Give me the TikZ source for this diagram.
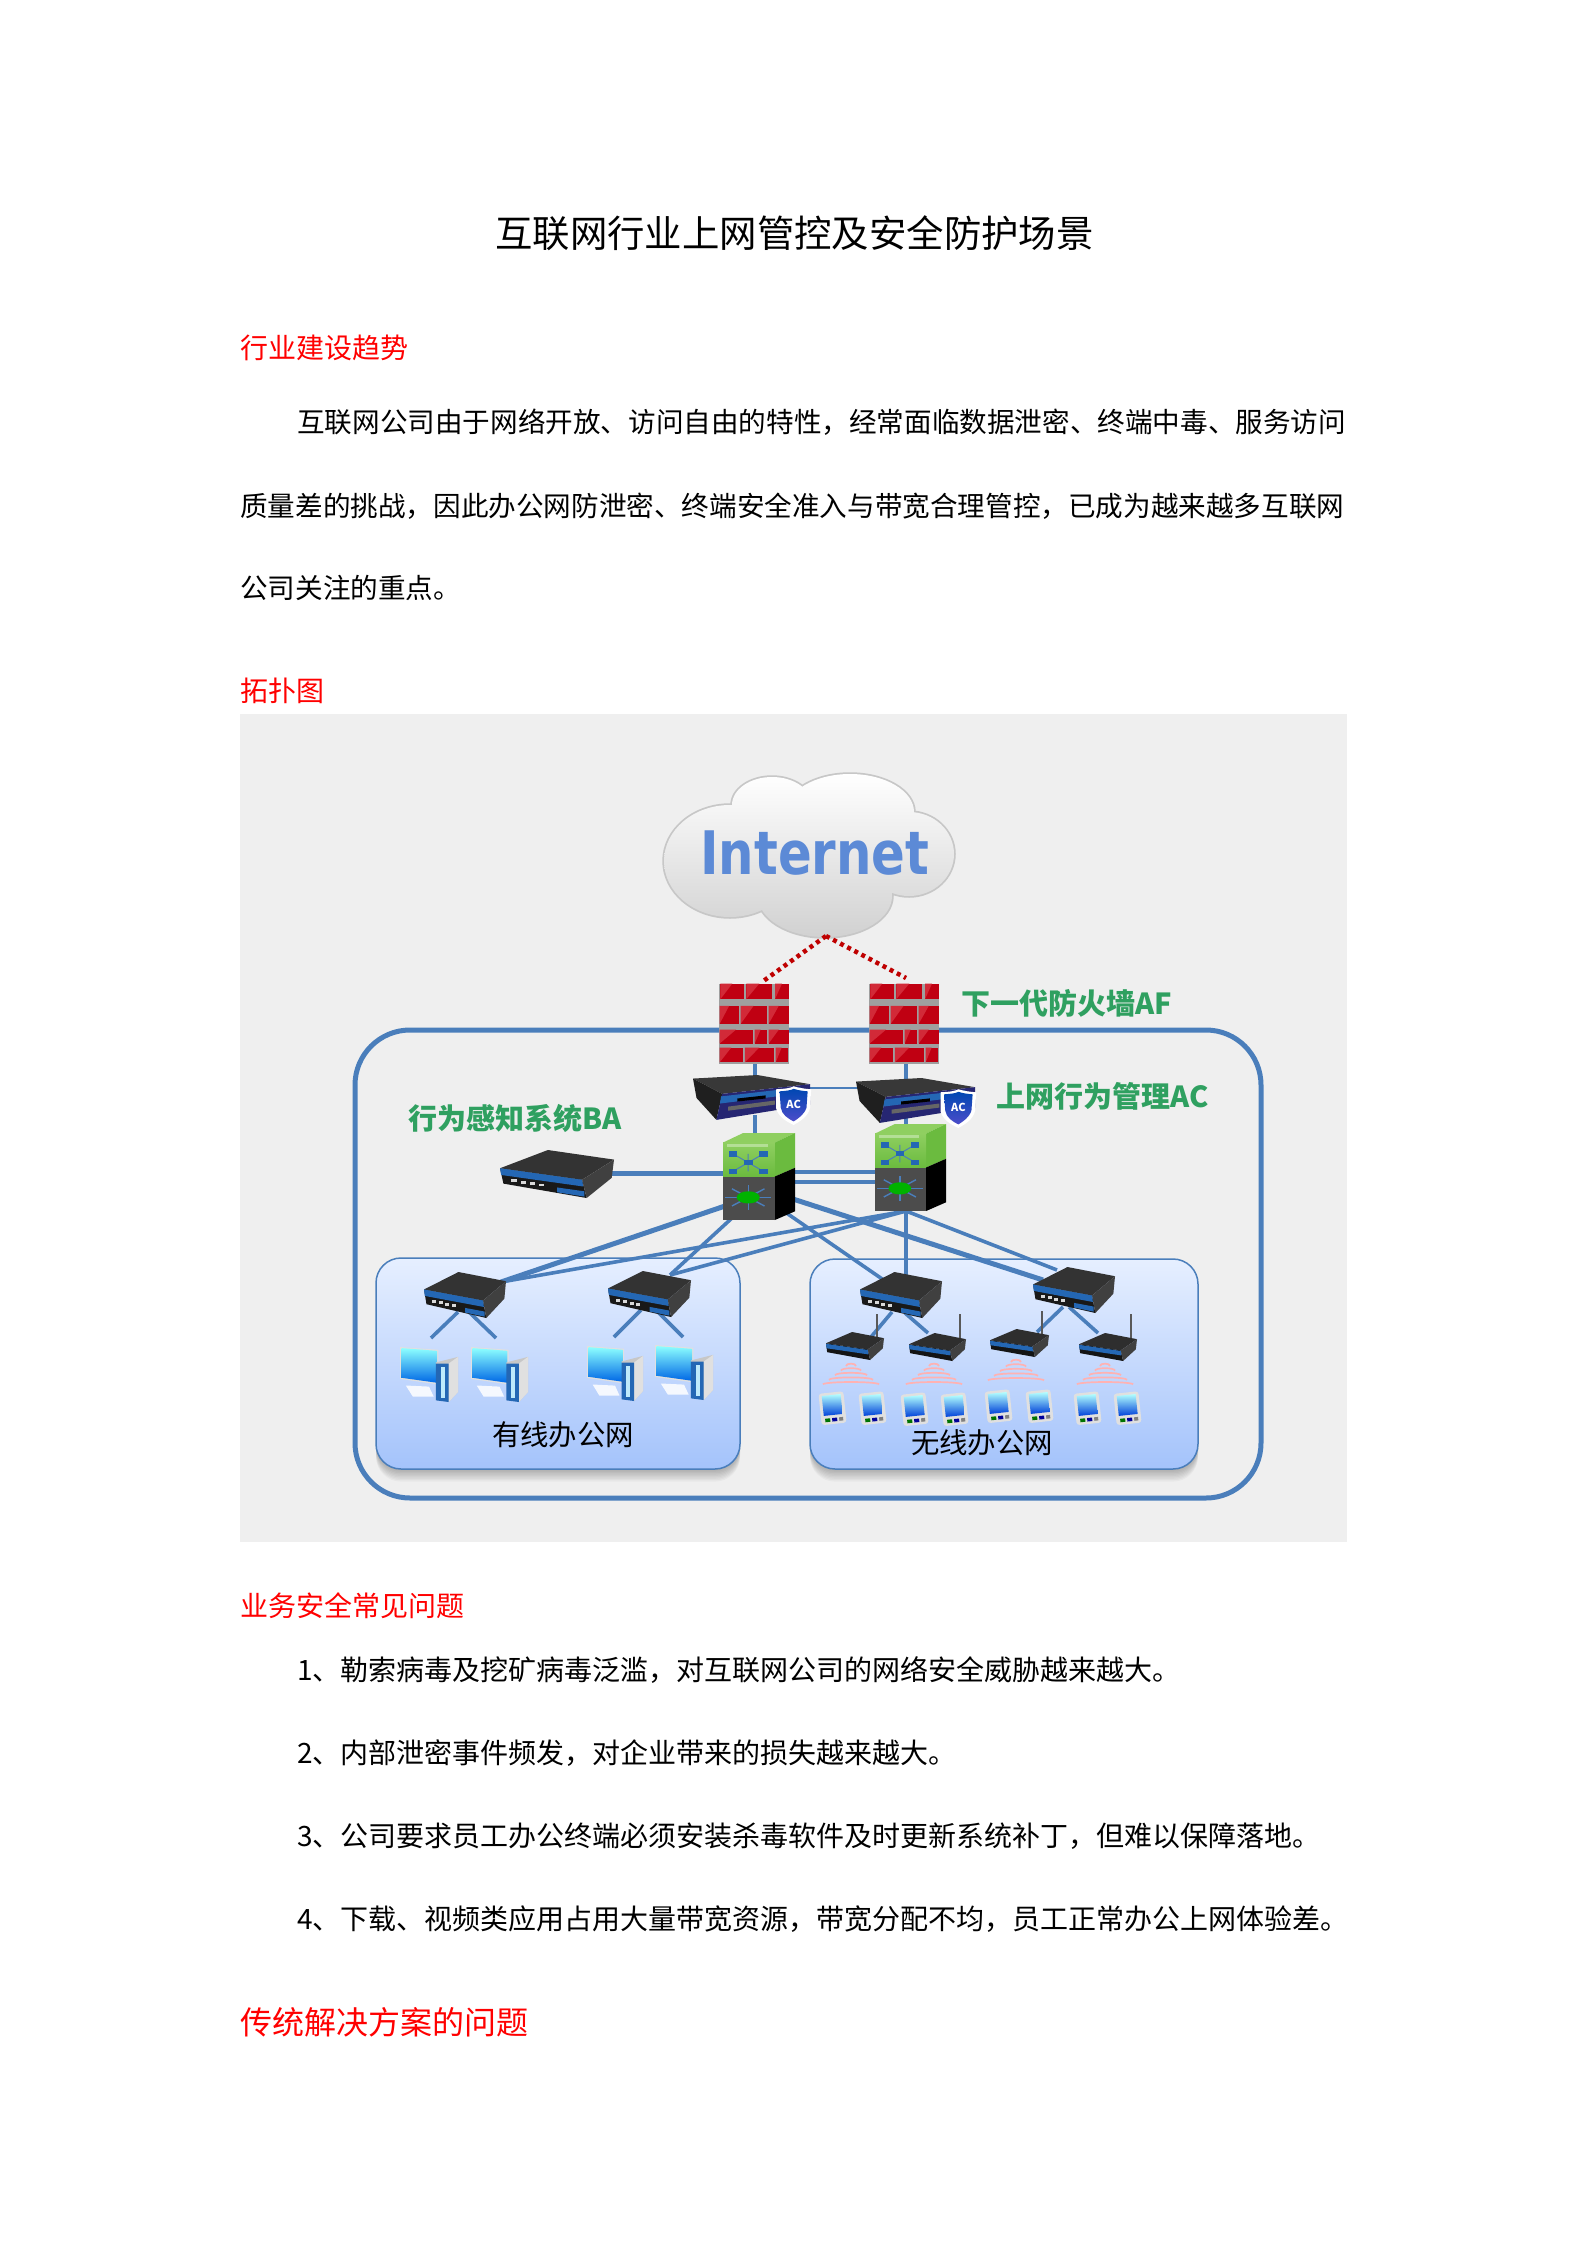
\documentclass[tikz,border=0pt]{standalone}
\usepackage{fontspec}
\setmainfont{Noto Sans CJK SC}
\newfontfamily\inetfont{DejaVu Sans}
\definecolor{linkblue}{HTML}{4A7EBB}
\definecolor{framegrey}{HTML}{EFEFEF}
\definecolor{labgreen}{HTML}{2FA060}
\definecolor{brickred}{HTML}{C00012}
\definecolor{bricklite}{HTML}{D22A38}
\definecolor{bandblue}{HTML}{2467B4}
\definecolor{paneltop}{HTML}{E6EFFF}
\definecolor{panelbot}{HTML}{A4C3FB}
\definecolor{inetblue}{HTML}{5C8AD6}
\definecolor{swgreen}{HTML}{6BBB3F}
\definecolor{swlite}{HTML}{8FCF60}
\tikzset{
  devbox/.style={inner sep=0pt,outer sep=0pt,anchor=north west},
  link/.style={draw=linkblue,line width=3.6pt},
  thicklink/.style={draw=linkblue,line width=5pt},
  thinlink/.style={draw=linkblue,line width=1.6pt},
  redlink/.style={draw=red!75!black,line width=4.5pt,dash pattern=on 4pt off 4pt},
  para/.style={anchor=west,inner sep=0pt,font=\fontsize{27.6}{30}\selectfont,text=black},
  item/.style={anchor=west,inner sep=0pt,font=\fontsize{28}{30}\selectfont,text=black},
  head/.style={anchor=west,inner sep=0pt,font=\fontsize{28}{30}\selectfont,text=red},
  grn/.style={inner sep=0pt,font=\fontsize{29}{30}\selectfont\bfseries,text=labgreen},
  panellab/.style={inner sep=0pt,font=\fontsize{28.4}{30}\selectfont,text=black},
  panel/.style={draw=linkblue,line width=1.5pt,rounded corners=25pt,top color=paneltop,bottom color=panelbot},
}
% ---- device macros: name, x, y, width, height
\newcommand{\firewalldev}[5]{%
  \node[devbox,minimum width=#4pt,minimum height=#5pt] (#1) at (#2,#3) {};
  \begin{scope}[shift={(#2,#3)},xscale=#4/100,yscale=#5/100]
    \fill[gray!75] (0,3) -- (100,3) -- (100,100) -- (0,100) -- cycle;
    \foreach \a/\b/\c/\d in {2/36/2/21,39/76/2/21,80/100/2/21,1/28/29/51,31/68/29/51,71/100/29/51,1/48/58/75,51/68/58/75,71/100/58/75,1/34/80/98,37/78/80/98,81/98/80/98}{
      \fill[brickred] (\a,\c) -- (\b,\c) -- (\b,\d) -- (\a,\d) -- cycle;
      \fill[bricklite] (\a,\d) -- (\a+0.5*\b-0.5*\a,\c) -- (\a,\c) -- cycle;
    }
  \end{scope}}
\newcommand{\acdev}[5]{%
  \node[devbox,minimum width=#4pt,minimum height=#5pt] (#1) at (#2,#3) {};
  \begin{scope}[shift={(#2,#3)},xscale=#4/100,yscale=#5/100]
    \fill[black!78] (0,7) -- (55,0) -- (100,18) -- (25,37) -- cycle;
    \fill[black!88] (0,7) -- (25,37) -- (20,88) -- (3,45) -- cycle;
    \fill[blue!35!black!85] (25,37) -- (100,18) -- (100,58) -- (20,88) -- cycle;
    \fill[bandblue] (24,42) -- (92,24) -- (92,36) -- (23,56) -- cycle;
    \fill[black] (38,46) -- (62,40) -- (62,46) -- (38,52) -- cycle;
    \fill[black!60] (30,62) -- (70,50) -- (70,58) -- (30,70) -- cycle;
    \fill[white] (71,28) .. controls (80,27) and (84,25) .. (86,22) .. controls (90,25) and (95,27) .. (101,28) -- (100,65) .. controls (98,82) and (92,90) .. (86,98) .. controls (79,90) and (73,82) .. (71,65) -- cycle;
    \shade[top color=blue!60!cyan!70!black,bottom color=blue!70!black!70!white] (74,32) .. controls (80,31) and (84,30) .. (86,27) .. controls (90,30) and (93,31) .. (98,32) -- (97,64) .. controls (95,78) and (90,85) .. (86,91) .. controls (81,85) and (76,78) .. (75,64) -- cycle;
    \node[inner sep=0pt,text=white,font=\fontsize{11}{11}\selectfont\bfseries] (#1lab) at (86,58) {AC};
  \end{scope}}
\newcommand{\switchdev}[5]{%
  \node[devbox,minimum width=#4pt,minimum height=#5pt] (#1) at (#2,#3) {};
  \begin{scope}[shift={(#2,#3)},xscale=#4/100,yscale=#5/100]
    \fill[swlite] (0,11) -- (28,0) -- (100,0) -- (72,11) -- cycle;
    \fill[swgreen] (72,11) -- (100,0) -- (100,40) -- (72,50) -- cycle;
    \shade[top color=swlite,bottom color=swgreen] (0,11) rectangle (72,50);
    \fill[white,opacity=.35] (6,13) rectangle (62,16);
    \fill[black] (72,50) -- (100,40) -- (100,90) -- (72,100) -- cycle;
    \fill[black!70] (0,50) rectangle (72,100);
    \draw[linkblue,line width=1pt] (14,24) -- (56,44) (56,24) -- (14,44) (35,24) -- (35,44);
    \foreach \px/\py in {14/24,56/24,14/44,56/44,35/34}{\fill[bandblue] (\px-6,\py-3) rectangle (\px+6,\py+3);}
    \foreach \ang in {0,45,...,315}{\draw[linkblue,line width=1.4pt] (35,74) -- ++(\ang:32 and 14);}
    \fill[green!70!black] (35,74) ellipse (16 and 7);
  \end{scope}}
\newcommand{\routerdev}[5]{%
  \node[devbox,minimum width=#4pt,minimum height=#5pt] (#1) at (#2,#3) {};
  \begin{scope}[shift={(#2,#3)},xscale=#4/100,yscale=#5/100]
    \fill[black!80] (0,38) -- (42,0) -- (100,20) -- (72,62) -- cycle;
    \fill[black!90] (0,38) -- (72,62) -- (76,100) -- (3,70) -- cycle;
    \fill[black!75] (100,20) -- (72,62) -- (76,100) -- (98,58) -- cycle;
    \fill[bandblue] (0,38) -- (72,62) -- (73,76) -- (1,52) -- cycle;
    \fill[bandblue] (50,78) -- (74,86) -- (74,97) -- (50,88) -- cycle;
    \foreach \i in {0,1,2,3}{\fill[white!85!black] (10+\i*8,61+\i*3) rectangle ++(5,6);}
  \end{scope}}
\newcommand{\apdev}[7]{%
  \node[devbox,minimum width=#4pt,minimum height=#5pt] (#1) at (#2,#3) {};
  \draw[black!65,line width=2pt] (#6,#3+10) -- (#6,#7);
  \begin{scope}[shift={(#2,#3)},xscale=#4/100,yscale=#5/100]
    \fill[black!82] (0,40) -- (45,0) -- (100,22) -- (72,62) -- cycle;
    \fill[black!92] (0,40) -- (72,62) -- (76,100) -- (2,72) -- cycle;
    \fill[black!75] (100,22) -- (72,62) -- (76,100) -- (98,58) -- cycle;
    \fill[bandblue] (0,42) -- (72,64) -- (73,80) -- (1,58) -- cycle;
  \end{scope}}
\newcommand{\pcdev}[5]{%
  \node[devbox,minimum width=#4pt,minimum height=#5pt] (#1) at (#2,#3) {};
  \begin{scope}[shift={(#2,#3)},xscale=#4/100,yscale=#5/100]
    \fill[black!12] (0,0) -- (66,5) -- (66,68) -- (0,58) -- cycle;
    \shade[shading angle=20,top color=cyan!45!white,bottom color=blue!55!cyan!90!black] (3,2) -- (64,7) -- (64,65) -- (3,56) -- cycle;
    \fill[white,opacity=.85] (10,70) -- (50,72) -- (58,90) -- (22,90) -- cycle;
    \fill[black!22] (62,28) -- (100,18) -- (100,82) -- (84,100) -- (62,30) -- cycle;
    \fill[black!12] (84,30) -- (100,18) -- (100,82) -- (84,100) -- cycle;
    \fill[bandblue] (62,30) -- (84,30) -- (84,100) -- (62,97) -- cycle;
    \fill[white!75!cyan] (70,36) rectangle (77,92);
  \end{scope}}
\newcommand{\wifidev}[3]{%
  \coordinate (#1) at (#2,#3);
  \foreach \k/\w in {0/5,1/10,2/16,3/22,4/28}{
    \draw[red!30,line width=1.7pt] (#2-\w,#3+4+\k*4.6) arc[start angle=180,end angle=360,x radius=\w,y radius=2.4];
  }}
\newcommand{\phonedev}[3]{%
  \node[devbox,minimum width=25pt,minimum height=31pt,anchor=center] (#1) at (#2,#3) {};
  \begin{scope}[shift={(#2,#3)},rotate=6]
    \fill[black!12,rounded corners=3pt] (-12,-15.5) rectangle (13,16);
    \shade[top color=cyan!30!white,bottom color=blue!70!cyan!85!black] (-9,-13) rectangle (10,7);
    \fill[green!45!black] (-8,10) rectangle ++(5,3.5);
    \fill[blue!60!black] (-1,10) rectangle ++(5,3.5);
    \fill[black!50] (6,10) rectangle ++(4,3.5);
  \end{scope}}
\begin{document}
\begin{tikzpicture}[x=1pt,y=-1pt]
\useasboundingbox (0,0) rectangle (1587,2245);
\fill[white] (0,0) rectangle (1587,2245);
% ---- text above
\node[inner sep=0pt,font=\fontsize{37.4}{40}\selectfont] (title) at (794.5,233) {互联网行业上网管控及安全防护场景};
\node[head] (h1) at (240,348) {行业建设趋势};
\node[para] (p1) at (297,422) {互联网公司由于网络开放、访问自由的特性，经常面临数据泄密、终端中毒、服务访问};
\node[para] (p2) at (240,506) {质量差的挑战，因此办公网防泄密、终端安全准入与带宽合理管控，已成为越来越多互联网};
\node[para] (p3) at (240,588) {公司关注的重点。};
\node[head] (h2) at (240,691) {拓扑图};
% ---- figure background
\fill[framegrey] (240,714) rectangle (1347,1542);
\draw[linkblue,line width=5pt,rounded corners=55pt] (355,1030) rectangle (1261,1498);
% ---- panels with shadow
\foreach \o in {1,...,9}{
  \fill[black,opacity=.03,rounded corners=25pt] (376,1258+\o*1.4) rectangle (740,1469+\o*1.4);
  \fill[black,opacity=.03,rounded corners=25pt] (810,1259+\o*1.4) rectangle (1198,1469+\o*1.4);
}
\path[panel] (376,1258) rectangle (740,1469);
\path[panel] (810,1259) rectangle (1198,1469);
% ---- connector ends
\coordinate (tip) at (826,936);
\coordinate (fa) at (762,982);
\coordinate (fb) at (906,978);
\coordinate (f1s) at (755,1060);
\coordinate (f2s) at (906,1060);
\coordinate (a1n) at (755,1080);
\coordinate (a2n) at (906,1083);
\coordinate (a1s) at (755,1115);
\coordinate (a2s) at (906,1118);
\coordinate (s1n) at (755,1140);
\coordinate (s2n) at (906,1130);
\coordinate (a1e) at (800,1088);
\coordinate (a2w) at (862,1088);
\coordinate (bae) at (610,1173);
\coordinate (s1w) at (727,1173);
\coordinate (s1e1) at (792,1172);
\coordinate (s1e2) at (792,1182);
\coordinate (s2w1) at (878,1172);
\coordinate (s2w2) at (878,1182);
\coordinate (s1l) at (725,1206);
\coordinate (s1b) at (732,1218);
\coordinate (s1d) at (785,1212);
\coordinate (s1r) at (793,1199);
\coordinate (s2b) at (906,1211);
\coordinate (r1t) at (501,1282);
\coordinate (r2a) at (670,1275);
\coordinate (r3a) at (888,1283);
\coordinate (r3b) at (906,1280);
\coordinate (r4a) at (1043,1280);
\coordinate (r4b) at (1057,1270);
\coordinate (r1l) at (458,1312);
\coordinate (r1r) at (469,1312);
\coordinate (r2l) at (641,1310);
\coordinate (r2r) at (656,1310);
\coordinate (r3l) at (892,1312);
\coordinate (r3r) at (905,1313);
\coordinate (r4l) at (1063,1307);
\coordinate (r4r) at (1069,1307);
\coordinate (pa) at (431,1338);
\coordinate (pb) at (496,1338);
\coordinate (pc) at (614,1337);
\coordinate (pd) at (683,1337);
\coordinate (apa) at (871,1337);
\coordinate (apb) at (928,1333);
\coordinate (apc) at (1037,1332);
\coordinate (apd) at (1098,1333);
% ---- connectors
\draw[link] (f1s) -- (a1n);
\draw[link] (f2s) -- (a2n);
\draw[link] (a1s) -- (s1n);
\draw[link] (a2s) -- (s2n);
\draw[thinlink] (a1e) -- (a2w);
\draw[thicklink] (bae) -- (s1w);
\draw[link] (s1e1) -- (s2w1);
\draw[link] (s1e2) -- (s2w2);
\draw[thicklink] (s1l) -- (r1t);
\draw[link] (s2b) -- (r1t);
\draw[link] (s1b) -- (r2a);
\draw[link] (s2b) -- (r2a);
\draw[link] (s1d) -- (r3a);
\draw[link] (s2b) -- (r3b);
\draw[thicklink] (s1r) -- (r4a);
\draw[link] (s2b) -- (r4b);
\draw[link] (r1l) -- (pa);
\draw[link] (r1r) -- (pb);
\draw[link] (r2l) -- (pc);
\draw[link] (r2r) -- (pd);
\draw[link] (r3l) -- (apa);
\draw[link] (r3r) -- (apb);
\draw[link] (r4l) -- (apc);
\draw[link] (r4r) -- (apd);
% ---- cloud
\node[devbox,minimum width=292pt,minimum height=163pt] (cloud) at (663,775) {};
\draw[draw=black!22,line width=3.5pt] (772,805) ellipse (40 and 28) (850,812) ellipse (64 and 38) (909,854) ellipse (45 and 42) (730,861) ellipse (66 and 56) (825,896) ellipse (67 and 41) (810,850) ellipse (90 and 50);
\path[top color=white,bottom color=black!18] (772,805) ellipse (40 and 28) (850,812) ellipse (64 and 38) (909,854) ellipse (45 and 42) (730,861) ellipse (66 and 56) (825,896) ellipse (67 and 41) (810,850) ellipse (90 and 50);
\node[inner sep=0pt,text=inetblue,font=\inetfont\fontsize{60}{60}\selectfont\bfseries,xscale=.83] (inet) at (815,853) {Internet};
\draw[redlink] (tip) -- (fa);
\draw[redlink] (tip) -- (fb);
% ---- devices
\firewalldev{f1}{719}{982}{70}{82}
\firewalldev{f2}{869}{982}{70}{82}
\acdev{ac1}{693}{1075}{117}{51}
\acdev{ac2}{856}{1078}{119}{51}
\switchdev{s1}{723}{1133}{72}{87}
\switchdev{s2}{875}{1124}{71}{87}
\routerdev{ba}{500}{1150}{114}{48}
\routerdev{r1}{424}{1272}{82}{46}
\routerdev{r2}{608}{1271}{83}{46}
\routerdev{r3}{860}{1272}{82}{46}
\routerdev{r4}{1033}{1267}{82}{46}
\apdev{ap1}{826}{1332}{58}{28}{877}{1314}
\apdev{ap2}{909}{1333}{57}{28}{960}{1314}
\apdev{ap3}{990}{1329}{59}{28}{1042}{1311}
\apdev{ap4}{1079}{1333}{58}{28}{1131}{1314}
\pcdev{pc1}{400}{1347}{58}{55}
\pcdev{pc2}{471}{1347}{57}{55}
\pcdev{pc3}{587}{1346}{56}{55}
\pcdev{pc4}{655}{1345}{58}{55}
\wifidev{w1}{851}{1362}
\wifidev{w2}{934}{1362}
\wifidev{w3}{1016}{1358}
\wifidev{w4}{1105}{1362}
\phonedev{m1}{832}{1408}
\phonedev{m2}{872}{1408}
\phonedev{m3}{914}{1409}
\phonedev{m4}{954}{1409}
\phonedev{m5}{998}{1406}
\phonedev{m6}{1039}{1406}
\phonedev{m7}{1087}{1408}
\phonedev{m8}{1127}{1408}
% ---- figure labels
\node[grn] (laf) at (1067,1003) {下一代防火墙AF};
\node[grn] (lac) at (1103,1096) {上网行为管理AC};
\node[grn] (lba) at (515,1118) {行为感知系统BA};
\node[panellab] (lw) at (563,1435) {有线办公网};
\node[panellab] (ln) at (982,1443) {无线办公网};
% ---- text below
\node[head] (h3) at (240,1606) {业务安全常见问题};
\node[item] (q1) at (297,1670) {1、勒索病毒及挖矿病毒泛滥，对互联网公司的网络安全威胁越来越大。};
\node[item] (q2) at (297,1753) {2、内部泄密事件频发，对企业带来的损失越来越大。};
\node[item] (q3) at (297,1836) {3、公司要求员工办公终端必须安装杀毒软件及时更新系统补丁，但难以保障落地。};
\node[item] (q4) at (297,1919) {4、下载、视频类应用占用大量带宽资源，带宽分配不均，员工正常办公上网体验差。};
\node[head,font=\fontsize{32}{34}\selectfont] (h4) at (240,2022) {传统解决方案的问题};
\end{tikzpicture}
\end{document}
